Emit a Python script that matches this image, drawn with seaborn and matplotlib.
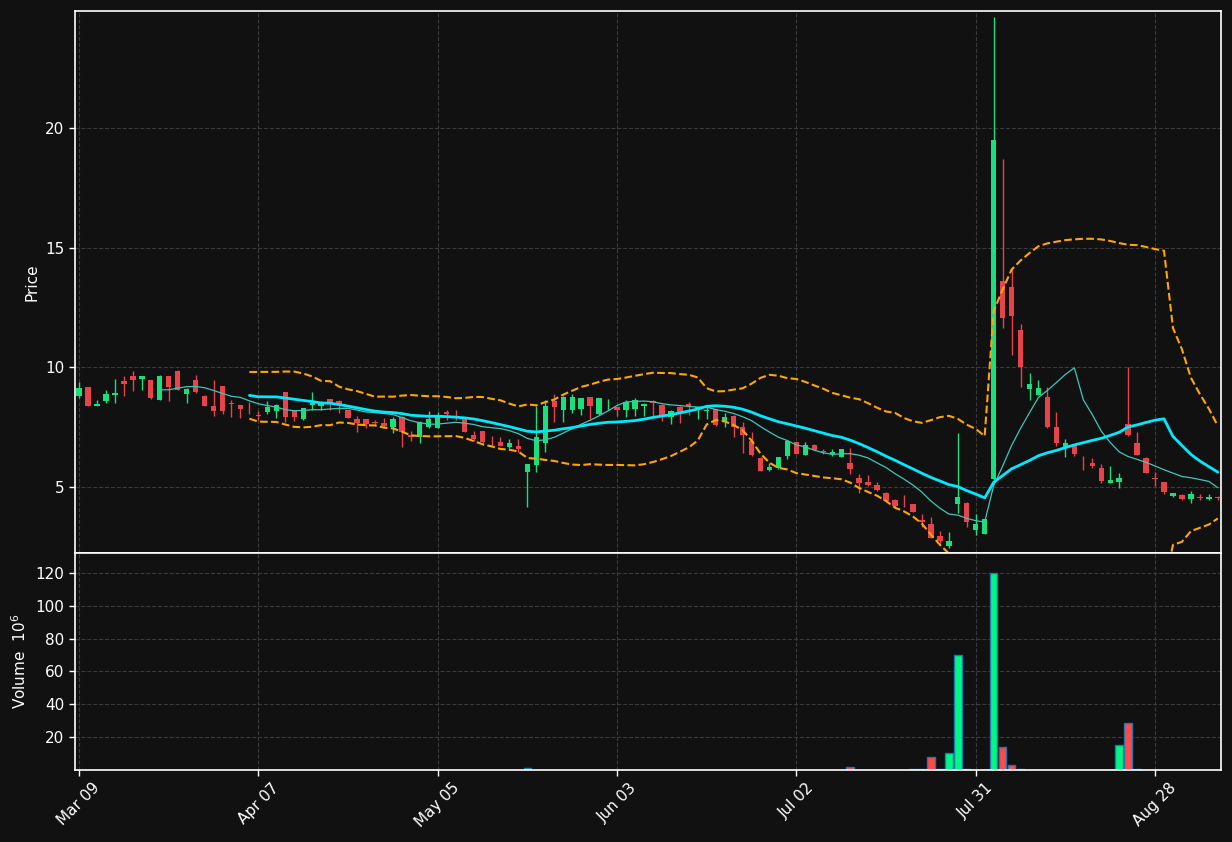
import numpy as np
import pandas as pd
import seaborn as sns
import matplotlib
matplotlib.use('Agg')
import matplotlib.pyplot as plt

# daily OHLC (trading days from Mar 09)
opens = [8.80, 9.19, 8.40, 8.60, 8.86, 9.43, 9.64, 9.51, 9.47, 8.64,
         9.64, 9.85, 8.89, 9.47, 8.80, 8.39, 9.22, 8.50, 8.42, 8.24,
         7.98, 8.15, 8.19, 8.96, 8.19, 7.83, 8.44, 8.40, 8.68, 8.60,
         8.22, 7.84, 7.84, 7.72, 7.69, 7.52, 7.94, 7.17, 7.10, 7.52,
         7.48, 8.15, 8.02, 7.90, 7.16, 7.34, 6.93, 6.89, 6.66, 6.73,
         5.64, 5.92, 6.85, 8.60, 8.22, 8.20, 8.26, 8.75, 8.05, 8.62,
         8.36, 8.22, 8.26, 8.40, 8.58, 8.43, 7.94, 8.36, 8.48, 8.22,
         8.17, 8.25, 7.73, 7.97, 7.52, 6.92, 6.20, 5.71, 5.78, 6.30,
         6.87, 6.34, 6.76, 6.49, 6.38, 6.27, 5.99, 5.36, 5.22, 5.07,
         4.74, 4.46, 4.29, 4.29, 3.62, 3.45, 2.95, 2.55, 4.29, 4.34,
         3.20, 3.04, 5.32, 13.61, 13.35, 11.56, 9.11, 8.86, 8.78, 7.50,
         6.68, 6.79, 6.18, 6.02, 5.78, 5.18, 5.22, 7.63, 6.85, 6.20,
         5.36, 5.20, 4.64, 4.67, 4.49, 4.58, 4.49, 4.60]
highs = [9.40, 9.20, 8.64, 9.06, 9.51, 9.64, 9.85, 9.66, 9.47, 9.70,
         9.66, 9.88, 9.12, 9.68, 8.83, 9.47, 9.22, 8.62, 8.42, 8.57,
         8.19, 8.61, 8.45, 8.98, 8.20, 8.31, 8.96, 8.60, 8.70, 8.62,
         8.24, 7.97, 7.85, 7.80, 7.88, 7.94, 7.96, 7.35, 7.75, 8.19,
         8.15, 8.22, 8.22, 7.92, 7.34, 7.36, 7.13, 7.07, 7.02, 7.01,
         5.98, 8.39, 8.64, 8.89, 8.80, 8.87, 8.72, 8.77, 8.73, 8.68,
         8.38, 8.62, 8.71, 8.50, 8.62, 8.45, 8.22, 8.38, 8.57, 8.35,
         8.36, 8.27, 8.10, 7.99, 7.73, 7.30, 6.25, 5.99, 6.26, 6.95,
         6.90, 6.87, 6.78, 6.60, 6.57, 6.60, 6.64, 5.53, 5.50, 5.20,
         4.80, 4.48, 4.67, 4.30, 3.86, 3.75, 3.17, 3.11, 7.24, 4.36,
         3.86, 3.65, 24.65, 18.70, 14.21, 11.80, 9.78, 9.47, 9.20, 8.12,
         6.99, 6.80, 6.30, 6.20, 5.95, 5.88, 5.57, 10.00, 7.31, 6.25,
         5.64, 5.22, 4.76, 4.69, 4.82, 4.70, 4.72, 4.62]
lows = [8.71, 8.40, 8.40, 8.50, 8.52, 8.82, 9.03, 9.06, 8.66, 8.62,
        8.61, 9.04, 8.50, 8.95, 8.40, 7.98, 8.05, 7.94, 7.87, 8.05,
        7.80, 8.05, 7.87, 7.73, 7.75, 7.80, 8.22, 8.22, 8.22, 8.08,
        7.88, 7.29, 7.45, 7.58, 7.50, 7.24, 6.68, 6.93, 6.83, 7.45,
        7.46, 7.80, 7.80, 7.29, 6.94, 6.85, 6.71, 6.70, 6.62, 6.48,
        4.18, 5.64, 6.48, 7.73, 7.73, 8.10, 8.01, 7.83, 8.03, 8.22,
        7.97, 7.93, 7.97, 7.97, 7.93, 7.77, 7.62, 7.66, 8.00, 7.83,
        7.83, 7.57, 7.52, 7.10, 6.44, 6.30, 5.68, 5.68, 5.76, 6.16,
        6.36, 6.32, 6.53, 6.40, 6.30, 6.25, 5.54, 4.74, 5.05, 4.85,
        4.40, 4.18, 4.18, 3.95, 3.34, 2.85, 2.64, 2.44, 3.93, 3.34,
        2.98, 3.04, 5.30, 11.63, 10.52, 9.19, 8.64, 8.83, 7.48, 6.71,
        6.27, 6.30, 5.71, 5.80, 5.15, 5.17, 4.95, 7.15, 6.32, 5.57,
        5.04, 4.70, 4.57, 4.45, 4.32, 4.47, 4.47, 4.45]
closes = [9.13, 8.40, 8.47, 8.89, 8.94, 9.31, 9.47, 9.64, 8.72, 9.64,
          9.18, 9.06, 9.10, 8.98, 8.40, 8.19, 8.19, 8.46, 8.26, 8.20,
          7.96, 8.33, 8.43, 7.94, 7.94, 8.29, 8.52, 8.45, 8.57, 8.47,
          7.90, 7.66, 7.63, 7.69, 7.56, 7.83, 7.31, 7.10, 7.73, 7.83,
          7.97, 8.05, 8.00, 7.31, 7.02, 6.89, 6.91, 6.73, 6.85, 6.58,
          5.96, 7.10, 8.39, 8.36, 8.78, 8.78, 8.71, 8.40, 8.71, 8.64,
          8.22, 8.57, 8.64, 8.47, 8.53, 7.97, 8.18, 8.11, 8.39, 8.33,
          8.19, 7.59, 7.94, 7.52, 7.17, 6.34, 5.68, 5.82, 6.24, 6.92,
          6.38, 6.76, 6.55, 6.47, 6.48, 6.58, 5.74, 5.18, 5.08, 4.87,
          4.43, 4.21, 4.27, 3.97, 3.53, 2.88, 2.74, 2.74, 4.59, 3.55,
          3.45, 3.65, 19.51, 12.08, 12.16, 10.03, 9.31, 9.13, 7.52, 6.85,
          6.85, 6.38, 6.16, 5.88, 5.26, 5.29, 5.38, 7.17, 6.34, 5.60,
          5.34, 4.80, 4.74, 4.49, 4.71, 4.56, 4.59, 4.54]
# volume in millions
volumes = [0.2, 0.2, 0.1, 0.2, 0.2, 0.2, 0.2, 0.1, 0.2, 0.2,
           0.2, 0.2, 0.1, 0.2, 0.2, 0.2, 0.2, 0.1, 0.1, 0.1,
           0.1, 0.1, 0.1, 0.2, 0.1, 0.1, 0.1, 0.1, 0.1, 0.1,
           0.1, 0.1, 0.1, 0.1, 0.1, 0.1, 0.2, 0.1, 0.1, 0.1,
           0.1, 0.1, 0.1, 0.1, 0.1, 0.1, 0.1, 0.1, 0.1, 0.1,
           1.5, 0.3, 0.3, 0.2, 0.2, 0.2, 0.1, 0.1, 0.1, 0.1,
           0.1, 0.1, 0.1, 0.1, 0.1, 0.1, 0.1, 0.1, 0.1, 0.1,
           0.1, 0.1, 0.1, 0.1, 0.2, 0.2, 0.2, 0.1, 0.1, 0.2,
           0.1, 0.1, 0.1, 0.1, 0.1, 0.1, 2.0, 0.3, 0.2, 0.2,
           0.2, 0.2, 0.3, 0.6, 0.8, 7.7, 0.4, 10.2, 69.9, 0.8,
           0.3, 0.3, 120.0, 13.8, 2.8, 0.6, 0.3, 0.2, 0.2, 0.2,
           0.2, 0.1, 0.1, 0.1, 0.1, 0.2, 15.0, 28.4, 0.8, 0.2,
           0.1, 0.1, 0.1, 0.1, 0.1, 0.1, 0.1, 0.1]
tick_labels = ['Mar 09', 'Apr 07', 'May 05', 'Jun 03', 'Jul 02', 'Jul 31', 'Aug 28']
tick_step = 20

bg = '#111111'
sns.set_theme(style='dark', rc={
    'figure.facecolor': bg, 'axes.facecolor': bg,
    'axes.edgecolor': 'white', 'axes.linewidth': 1.2,
    'axes.labelcolor': 'white', 'text.color': 'white',
    'xtick.color': 'white', 'ytick.color': 'white',
    'xtick.bottom': True, 'ytick.left': True,
    'grid.color': '#3a3a3a', 'grid.linestyle': '--', 'grid.linewidth': 0.8,
    'axes.grid': True,
})
plt.rcParams['font.family'] = ['DejaVu Sans']

df = pd.DataFrame({'open': opens, 'high': highs, 'low': lows,
                   'close': closes, 'volume': volumes})
df['idx'] = np.arange(len(df))
df['sma10'] = df['close'].rolling(10).mean()
df['sma20'] = df['close'].rolling(20).mean()
std20 = df['close'].rolling(20).std()
df['bb_up'] = df['sma20'] + 2 * std20
df['bb_lo'] = df['sma20'] - 2 * std20

up = df['close'] >= df['open']
candle_col = np.where(up, '#18e07c', '#e8424a')
vol_col = np.where(up, '#00f882', '#ff4a4a')

fig = plt.figure(figsize=(12.32, 8.42), dpi=100)
ax1 = fig.add_axes([0.0609, 0.3432, 0.9302, 0.6437])
ax2 = fig.add_axes([0.0609, 0.0855, 0.9302, 0.2577], sharex=ax1)

# candles
ax1.vlines(df['idx'], df['low'], df['high'], colors=candle_col, lw=1, zorder=2)
body = (df['close'] - df['open']).abs().clip(lower=0.03)
ax1.bar(df['idx'], body, bottom=df[['open', 'close']].min(axis=1),
        width=0.6, color=candle_col, linewidth=0, zorder=3)

# moving averages + bollinger bands
sns.lineplot(data=df, x='idx', y='sma10', ax=ax1, color='#3cc8b8', lw=0.9, zorder=4)
sns.lineplot(data=df, x='idx', y='sma20', ax=ax1, color='#00eaff', lw=2.0, zorder=4)
sns.lineplot(data=df, x='idx', y='bb_up', ax=ax1, color='#ffa500', lw=1.5,
             linestyle='--', zorder=4)
sns.lineplot(data=df, x='idx', y='bb_lo', ax=ax1, color='#ffa500', lw=1.5,
             linestyle='--', zorder=4)

# volume
ax2.bar(df['idx'], df['volume'], width=0.85, color=vol_col,
        edgecolor='#1f77b4', linewidth=1, zorder=2)

ax1.set_xlim(-0.45, 127.36)
ax1.set_ylim(2.24, 24.9)
ax2.set_ylim(0, 132)
ax1.set_yticks([5, 10, 15, 20])
ax2.set_yticks([20, 40, 60, 80, 100, 120])
pos = list(range(0, tick_step * len(tick_labels), tick_step))
ax2.set_xticks(pos)
ax2.set_xticklabels(tick_labels, rotation=45, ha='center')
ax1.tick_params(axis='x', length=0, labelbottom=False)
ax1.tick_params(axis='y', length=4, width=1, labelsize=11)
ax2.tick_params(axis='both', length=4, width=1, labelsize=11)

ax1.set_xlabel('')
ax2.set_xlabel('')
ax1.set_ylabel('Price', fontsize=11)
ax2.set_ylabel('Volume  $10^{6}$', fontsize=11)
ax1.yaxis.set_label_coords(-0.031, 0.5)
ax2.yaxis.set_label_coords(-0.040, 0.5)

for ax in (ax1, ax2):
    ax.grid(True, axis='both')
    for s in ax.spines.values():
        s.set_color('white')

fig.savefig('out.png', dpi=100, facecolor=bg)
